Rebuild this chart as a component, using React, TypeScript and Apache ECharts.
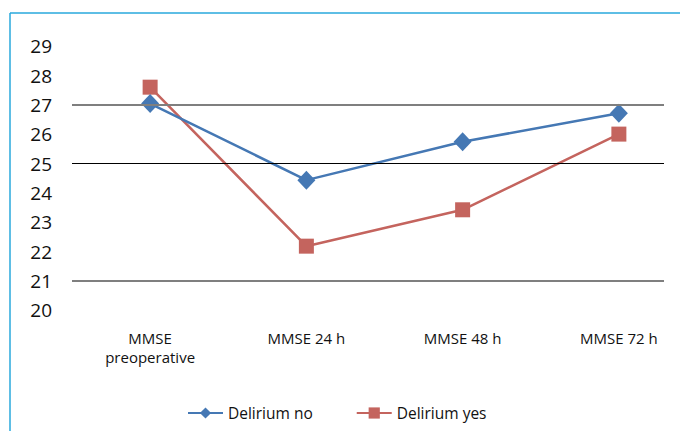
import React, { useEffect, useRef } from "react";
import * as echarts from "echarts";

const categories = ["MMSE\npreoperative", "MMSE 24 h", "MMSE 48 h", "MMSE 72 h"];
const deliriumNo = [27.05, 24.44, 25.75, 26.72];
const deliriumYes = [27.61, 22.19, 23.43, 26.01];
const gridValues = [27, 25, 21];
const gridColors = ["#7f7f7f", "#000000", "#7f7f7f"];
const gridWidths = [2, 1.2, 2];

const FONT = "Open Sans";

export default function App() {
  const ref = useRef<HTMLDivElement>(null);
  useEffect(() => {
    if (!ref.current) return;
    const chart = echarts.init(ref.current, undefined, { renderer: "svg" });
    chart.setOption({
      animation: false,
      backgroundColor: "#ffffff",
      textStyle: { fontFamily: FONT },
      graphic: [
        { type: "line", shape: { x1: 10, y1: 13, x2: 720, y2: 13 }, style: { stroke: "#29a8dc", lineWidth: 1.5 } },
        { type: "line", shape: { x1: 10, y1: 13, x2: 10, y2: 431 }, style: { stroke: "#29a8dc", lineWidth: 1.5 } },
      ],
      grid: [
        { left: 72, top: 46.4, width: 625, height: 264 },
        { left: 72, top: 46.4, width: 592, height: 264 },
      ],
      legend: {
        left: 182,
        top: 400,
        itemWidth: 35,
        itemHeight: 14,
        itemGap: 43,
        textStyle: { fontSize: 15.5, color: "#111", fontFamily: FONT },
        data: ["Delirium no", "Delirium yes"],
      },
      xAxis: [
        {
          type: "category",
          gridIndex: 0,
          data: categories,
          boundaryGap: true,
          axisLine: { show: false },
          axisTick: { show: false },
          axisLabel: { margin: 18, fontSize: 15, color: "#111", lineHeight: 19, fontFamily: FONT },
        },
        { type: "value", gridIndex: 1, show: false, min: 0, max: 1 },
      ],
      yAxis: [
        {
          type: "value",
          gridIndex: 0,
          min: 20,
          max: 29,
          interval: 1,
          splitLine: { show: false },
          axisLine: { show: false },
          axisTick: { show: false },
          axisLabel: { margin: 20, fontSize: 19, color: "#111", fontFamily: FONT },
        },
        { type: "value", gridIndex: 1, show: false, min: 20, max: 29 },
      ],
      series: [
        {
          name: "gridlines",
          type: "line",
          xAxisIndex: 1,
          yAxisIndex: 1,
          data: [],
          silent: true,
          z: 1,
          markLine: {
            silent: true,
            symbol: "none",
            label: { show: false },
            data: gridValues.map((v, i) => ({
              yAxis: v,
              lineStyle: { color: gridColors[i], width: gridWidths[i], type: "solid" },
            })),
          },
        },
        {
          name: "Delirium no",
          type: "line",
          data: deliriumNo,
          symbol: "diamond",
          symbolSize: [18, 19],
          z: 3,
          itemStyle: { color: "#4578b4" },
          lineStyle: { color: "#4578b4", width: 2.5 },
        },
        {
          name: "Delirium yes",
          type: "line",
          data: deliriumYes,
          symbol: "rect",
          symbolSize: 15,
          z: 2,
          itemStyle: { color: "#c4645e" },
          lineStyle: { color: "#c4645e", width: 2.5 },
        },
      ],
    });
    return () => chart.dispose();
  }, []);
  return (
    <div style={{ position: "absolute", left: 0, top: 0, width: 680, height: 431, overflow: "hidden" }}>
      <div ref={ref} style={{ width: 720, height: 431 }} />
    </div>
  );
}
